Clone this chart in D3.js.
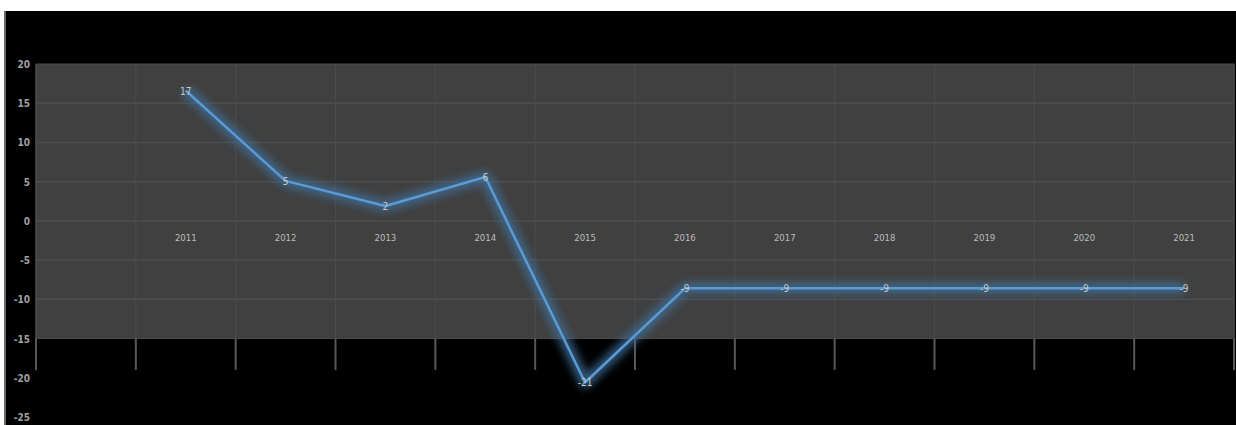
<!DOCTYPE html>
<html><head><meta charset="utf-8">
<script src="https://cdn.jsdelivr.net/npm/d3@7"></script>
<style>html,body{margin:0;padding:0;background:#fff;}svg{display:block;}</style>
</head><body>
<script>
// ---- data ----
const categories = ["", "2011","2012","2013","2014","2015","2016","2017","2018","2019","2020","2021"];
const years = ["2011","2012","2013","2014","2015","2016","2017","2018","2019","2020","2021"];
const values = [16.6, 5.1, 1.9, 5.6, -20.6, -8.6, -8.6, -8.6, -8.6, -8.6, -8.6];
const yTicks = [20, 15, 10, 5, 0, -5, -10, -15, -20, -25];

const W = 1236, H = 425;
const svg = d3.select("body").append("svg").attr("width", W).attr("height", H);

// frame: white top and left strip, black chart background
svg.append("rect").attr("x",0).attr("y",0).attr("width",W).attr("height",H).attr("fill","#fff");
svg.append("rect").attr("x",4).attr("y",11).attr("width",W-4).attr("height",H-11).attr("fill","#000");
svg.append("rect").attr("x",4).attr("y",11).attr("width",2).attr("height",H-11).attr("fill","#6a6a6a");

const x = d3.scaleBand().domain(categories).range([36, 1234]);
const y = d3.scaleLinear().domain([-25, 20]).range([417, 64]);

const defs = svg.append("defs");
const f = defs.append("filter").attr("id","glow").attr("x","-20%").attr("y","-20%").attr("width","140%").attr("height","140%");
f.append("feGaussianBlur").attr("stdDeviation",4);

// plot area (-15..20)
svg.append("rect").attr("x",x.range()[0]).attr("y",y(20)).attr("width",x.range()[1]-x.range()[0])
  .attr("height",y(-15)-y(20)).attr("fill","#404040").attr("stroke","#4c4c4c").attr("stroke-width",1);

// horizontal gridlines
svg.append("g").selectAll("line").data(yTicks.filter(t=>t<20 && t>-15)).join("line")
  .attr("x1",x.range()[0]).attr("x2",x.range()[1]).attr("y1",d=>y(d)).attr("y2",d=>y(d))
  .attr("stroke","#4e4e4e").attr("stroke-width",1.5);

// vertical gridlines at band boundaries
const bounds = categories.map(c=>x(c)).concat([x.range()[1]]);
svg.append("g").selectAll("line").data(bounds).join("line")
  .attr("x1",d=>d).attr("x2",d=>d).attr("y1",y(20)).attr("y2",y(-15))
  .attr("stroke","#4a4a4a").attr("stroke-width",1.2);
// tick marks below the plot area
svg.append("g").selectAll("line").data(bounds).join("line")
  .attr("x1",d=>d).attr("x2",d=>d).attr("y1",y(-15)).attr("y2",y(-19))
  .attr("stroke","#575757").attr("stroke-width",2);

// y axis labels
svg.append("g").selectAll("text").data(yTicks).join("text")
  .attr("x",30).attr("y",d=>y(d)+1).attr("text-anchor","end").attr("dominant-baseline","middle")
  .attr("font-family","DejaVu Sans Condensed, DejaVu Sans, sans-serif").attr("font-size",10).attr("font-weight","bold")
  .attr("fill","#a0a0a0").text(d=>d);

// category labels
svg.append("g").selectAll("text").data(years).join("text")
  .attr("x",d=>x(d)+x.bandwidth()/2).attr("y",y(0)+18).attr("text-anchor","middle").attr("dominant-baseline","middle")
  .attr("font-family","DejaVu Sans Condensed, DejaVu Sans, sans-serif").attr("font-size",9.5)
  .attr("fill","#bdbdbd").text(d=>d);

const pts = years.map((c,i)=>[x(c)+x.bandwidth()/2, y(values[i])]);
const line = d3.line();
// glow
svg.append("path").attr("d",line(pts)).attr("fill","none").attr("stroke","#3f6f9c")
  .attr("stroke-width",11).attr("stroke-opacity",0.8).attr("stroke-linejoin","round").attr("filter","url(#glow)");
svg.append("path").attr("d",line(pts)).attr("fill","none").attr("stroke","#5b9bd5")
  .attr("stroke-width",2.5).attr("stroke-linejoin","round");

// data labels
svg.append("g").selectAll("text").data(years).join("text")
  .attr("x",(d,i)=>pts[i][0]).attr("y",(d,i)=>pts[i][1]+1).attr("text-anchor","middle").attr("dominant-baseline","middle")
  .attr("font-family","DejaVu Sans Condensed, DejaVu Sans, sans-serif").attr("font-size",10)
  .attr("fill","#c8c8c8").text((d,i)=>values[i].toFixed(0));
</script>
</body></html>
